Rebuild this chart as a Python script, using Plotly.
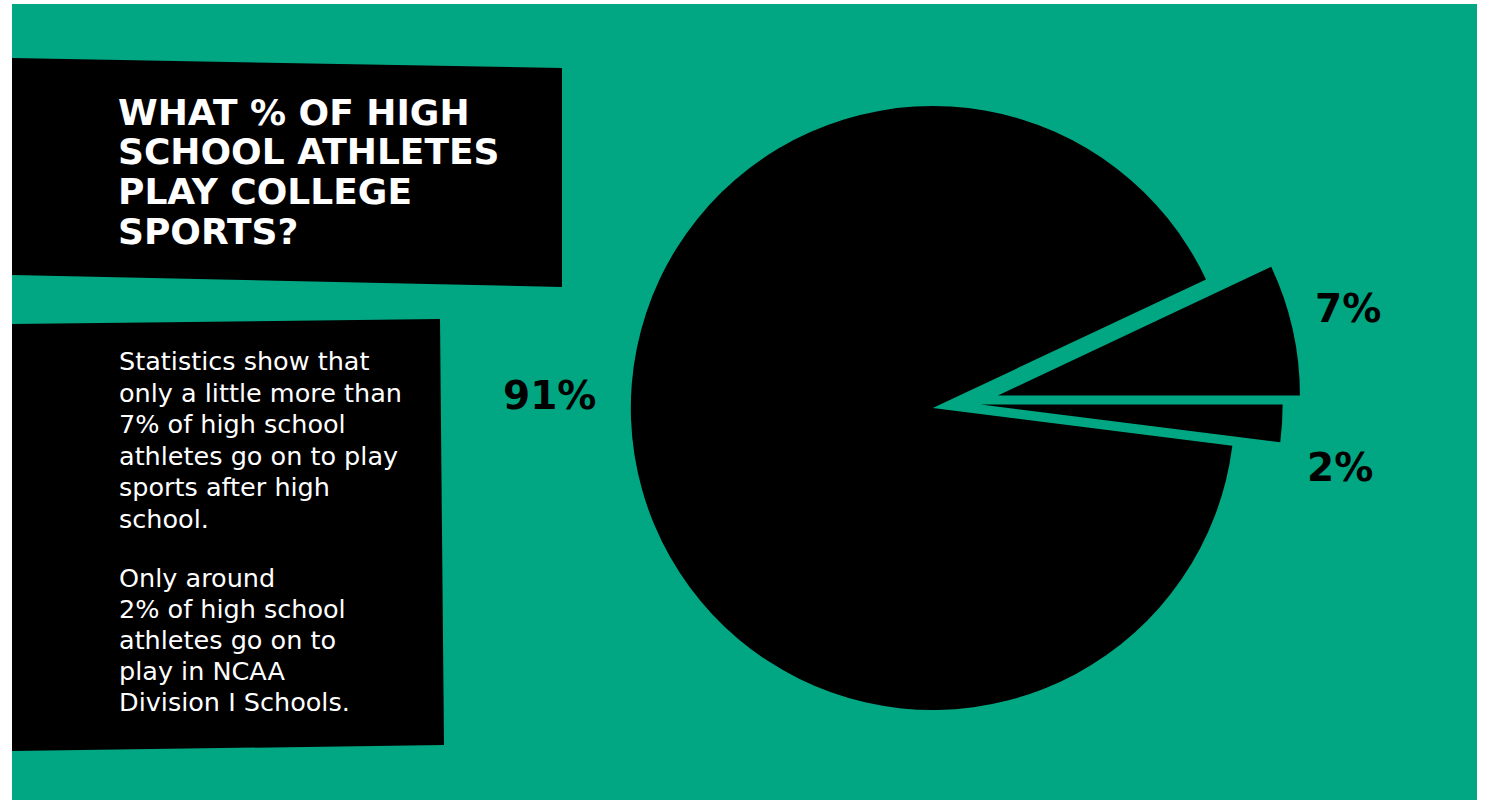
import plotly.graph_objects as go

# ---------------- data ----------------
slice_names = ["Play college sports", "Do not play college sports", "Play NCAA Division I"]
slice_values = [7, 91, 2]
slice_labels = ["7%", "91%", "2%"]

title_lines = ["WHAT % OF HIGH", "SCHOOL ATHLETES", "PLAY COLLEGE", "SPORTS?"]
body_lines_1 = ["Statistics show that", "only a little more than", "7% of high school",
                "athletes go on to play", "sports after high", "school."]
body_lines_2 = ["Only around", "2% of high school", "athletes go on to",
                "play in NCAA", "Division I Schools."]

# ---------------- style ----------------
W, H = 1489, 800
TEAL = "#01A783"
BLACK = "#000000"


def px(x):
    return x / W


def py(y):
    return 1 - y / H


total = sum(slice_values)
rotation = 90 - 360 * slice_values[0] / total

fig = go.Figure()
fig.add_trace(go.Pie(
    labels=slice_names,
    values=slice_values,
    sort=False,
    direction="counterclockwise",
    rotation=rotation,
    pull=[0.12, 0.1, 0.06],
    marker=dict(colors=[BLACK, BLACK, BLACK], line=dict(width=0)),
    textinfo="none",
    hoverinfo="label+percent",
    showlegend=False,
    domain=dict(x=[px(624.4), px(1300.8)], y=[py(741.5), py(65.1)]),
))

shapes = [
    dict(type="rect", xref="paper", yref="paper", x0=px(12), x1=px(1477), y0=py(4), y1=py(800),
         fillcolor=TEAL, line=dict(width=0), layer="below"),
    dict(type="path", xref="paper", yref="paper",
         path=f"M {px(12)},{py(58)} L {px(562)},{py(68)} L {px(562)},{py(287)} L {px(12)},{py(275)} Z",
         fillcolor=BLACK, line=dict(width=0), layer="below"),
    dict(type="path", xref="paper", yref="paper",
         path=f"M {px(12)},{py(324)} L {px(440)},{py(319)} L {px(444)},{py(745)} L {px(12)},{py(751)} Z",
         fillcolor=BLACK, line=dict(width=0), layer="below"),
]

annotations = []
for i, t in enumerate(title_lines):
    annotations.append(dict(
        text=t, x=px(116), y=py(112.5 + 39.5 * i), xref="paper", yref="paper",
        xanchor="left", yanchor="middle", showarrow=False,
        font=dict(family="DejaVu Sans", size=36, color="white", weight="bold")))

for i, t in enumerate(body_lines_1):
    annotations.append(dict(
        text=t, x=px(117), y=py(361 + 31.5 * i), xref="paper", yref="paper",
        xanchor="left", yanchor="middle", showarrow=False,
        font=dict(family="DejaVu Sans", size=25.5, color="white")))

for i, t in enumerate(body_lines_2):
    annotations.append(dict(
        text=t, x=px(117), y=py(578 + 31 * i), xref="paper", yref="paper",
        xanchor="left", yanchor="middle", showarrow=False,
        font=dict(family="DejaVu Sans", size=25.5, color="white")))

label_pos = {"7%": (1348, 308), "91%": (549, 395), "2%": (1340, 467)}
for lab in slice_labels:
    x, y = label_pos[lab]
    annotations.append(dict(
        text=lab, x=px(x), y=py(y), xref="paper", yref="paper",
        xanchor="center", yanchor="middle", showarrow=False,
        font=dict(family="DejaVu Sans", size=39, color=BLACK, weight="bold")))

fig.update_layout(
    width=W, height=H,
    margin=dict(l=0, r=0, t=0, b=0),
    paper_bgcolor="white",
    plot_bgcolor="white",
    shapes=shapes,
    annotations=annotations,
    showlegend=False,
)

fig.write_html("out.html", config={"displayModeBar": False})
